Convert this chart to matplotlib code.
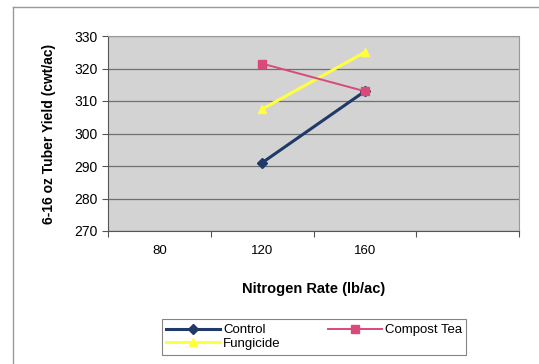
import numpy as np
import matplotlib
matplotlib.use("Agg")
import matplotlib.pyplot as plt
from matplotlib.lines import Line2D

# nitrogen rate categories (last slot is empty in the original)
rates = ["80", "120", "160", ""]
control = [np.nan, 291, 313, np.nan]
compost_tea = [np.nan, 321.5, 313, np.nan]
fungicide = [np.nan, 307.5, 325, np.nan]

plt.rcParams['font.family'] = ['Liberation Sans', 'DejaVu Sans']

fig = plt.figure(figsize=(5.39, 3.64), dpi=100)
ax = fig.add_axes([108 / 539, 1 - 231 / 364, 411 / 539, 195 / 364])
ax.set_facecolor('#d3d3d3')

x = np.arange(len(rates))
l1, = ax.plot(x, control, color='#1f3a68', lw=2.2, marker='D', ms=5, label='Control', zorder=3)
l2, = ax.plot(x, compost_tea, color='#d94a7a', lw=1.4, marker='s', ms=6, label='Compost Tea', zorder=4)
l3, = ax.plot(x, fungicide, color='#ffff40', lw=2.2, marker='^', ms=6, label='Fungicide', zorder=3)

ax.set_ylim(270, 330)
ax.set_yticks(range(270, 331, 10))
ax.grid(axis='y', color='#707070', lw=0.9)
ax.set_axisbelow(True)

ax.set_xlim(-0.5, len(rates) - 0.5)
ax.set_xticks(np.arange(-0.5, len(rates), 1.0))
ax.set_xticklabels([])
ax.set_xticks(x, minor=True)
ax.set_xticklabels(rates, minor=True)
ax.tick_params(axis='x', which='minor', length=0, pad=10, labelsize=9.5)
ax.tick_params(axis='x', which='major', length=4, direction='out', color='#555555')
ax.tick_params(axis='y', length=4, labelsize=10, color='#555555')

for side in ['left', 'bottom']:
    ax.spines[side].set_color('#555555')
for side in ['right', 'top']:
    ax.spines[side].set_color('#999999')

ax.set_ylabel('6-16 oz Tuber Yield (cwt/ac)', fontsize=10, fontweight='bold', labelpad=13)
ax.set_xlabel('Nitrogen Rate (lb/ac)', fontsize=10.5, fontweight='bold', labelpad=18)

# order so that rows read Control / Compost Tea, then Fungicide
leg = fig.legend([l1, l3, l2], ['Control', 'Fungicide', 'Compost Tea'],
                 loc='center', bbox_to_anchor=(314 / 539, 1 - 337 / 364), ncol=2,
                 fontsize=9.5, frameon=True, fancybox=False, edgecolor='#666666',
                 handlelength=4.1, columnspacing=3.6, labelspacing=0.1,
                 borderpad=0.35, borderaxespad=0, handletextpad=0.2)
leg.get_frame().set_linewidth(0.8)

# outer chart border
fig.add_artist(Line2D([13 / 539, 13 / 539], [0, 1 - 7 / 364], color='#999999', lw=1))
fig.add_artist(Line2D([13 / 539, 1], [1 - 7 / 364, 1 - 7 / 364], color='#999999', lw=1))

fig.savefig('out.png', dpi=100)
